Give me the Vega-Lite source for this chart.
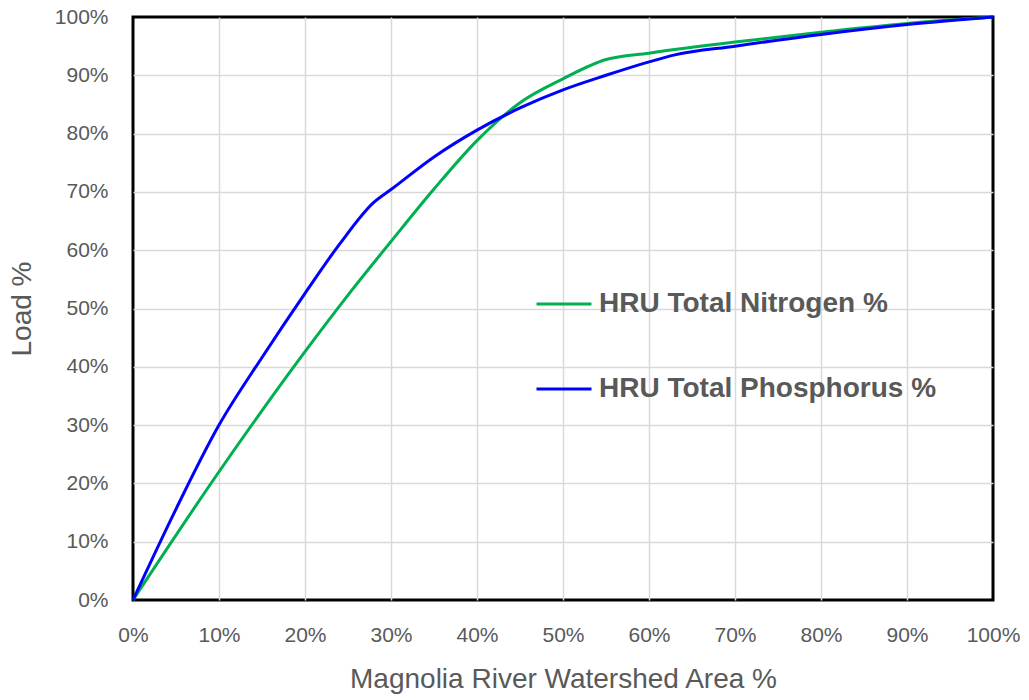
{
  "$schema": "https://vega.github.io/schema/vega-lite/v6.json",
  "autosize": "none",
  "width": 860,
  "height": 583,
  "padding": {"left": 133, "top": 17, "right": 36, "bottom": 100},
  "background": "white",
  "config": {
    "view": {"stroke": "black", "strokeWidth": 3},
    "font": "Liberation Sans"
  },
  "data": {
    "values": [
      {"area": 0, "load": 0, "series": "HRU Total Nitrogen %"},
      {"area": 10, "load": 22, "series": "HRU Total Nitrogen %"},
      {"area": 20, "load": 42.6, "series": "HRU Total Nitrogen %"},
      {"area": 25, "load": 52.3, "series": "HRU Total Nitrogen %"},
      {"area": 30, "load": 61.5, "series": "HRU Total Nitrogen %"},
      {"area": 35, "load": 70.5, "series": "HRU Total Nitrogen %"},
      {"area": 40, "load": 78.8, "series": "HRU Total Nitrogen %"},
      {"area": 45, "load": 85.3, "series": "HRU Total Nitrogen %"},
      {"area": 50, "load": 89.4, "series": "HRU Total Nitrogen %"},
      {"area": 55, "load": 92.7, "series": "HRU Total Nitrogen %"},
      {"area": 60, "load": 93.8, "series": "HRU Total Nitrogen %"},
      {"area": 70, "load": 95.7, "series": "HRU Total Nitrogen %"},
      {"area": 80, "load": 97.4, "series": "HRU Total Nitrogen %"},
      {"area": 90, "load": 98.9, "series": "HRU Total Nitrogen %"},
      {"area": 100, "load": 100, "series": "HRU Total Nitrogen %"},
      {"area": 0, "load": 0, "series": "HRU Total Phosphorus %"},
      {"area": 5, "load": 15.6, "series": "HRU Total Phosphorus %"},
      {"area": 10, "load": 30, "series": "HRU Total Phosphorus %"},
      {"area": 15, "load": 41.6, "series": "HRU Total Phosphorus %"},
      {"area": 20, "load": 52.6, "series": "HRU Total Phosphorus %"},
      {"area": 24, "load": 61, "series": "HRU Total Phosphorus %"},
      {"area": 28, "load": 68.2, "series": "HRU Total Phosphorus %"},
      {"area": 30, "load": 70.4, "series": "HRU Total Phosphorus %"},
      {"area": 35, "load": 76, "series": "HRU Total Phosphorus %"},
      {"area": 40, "load": 80.6, "series": "HRU Total Phosphorus %"},
      {"area": 45, "load": 84.4, "series": "HRU Total Phosphorus %"},
      {"area": 50, "load": 87.5, "series": "HRU Total Phosphorus %"},
      {"area": 55, "load": 90, "series": "HRU Total Phosphorus %"},
      {"area": 60, "load": 92.3, "series": "HRU Total Phosphorus %"},
      {"area": 63, "load": 93.5, "series": "HRU Total Phosphorus %"},
      {"area": 70, "load": 95, "series": "HRU Total Phosphorus %"},
      {"area": 80, "load": 97, "series": "HRU Total Phosphorus %"},
      {"area": 90, "load": 98.7, "series": "HRU Total Phosphorus %"},
      {"area": 100, "load": 100, "series": "HRU Total Phosphorus %"}
    ]
  },
  "mark": {"type": "line", "strokeWidth": 3, "interpolate": "monotone"},
  "encoding": {
    "x": {
      "field": "area", "type": "quantitative",
      "scale": {"domain": [0, 100], "nice": false},
      "axis": {
        "title": "Magnolia River Watershed Area %",
        "values": [0,10,20,30,40,50,60,70,80,90,100],
        "labelExpr": "datum.value + '%'",
        "labelFlush": false, "labelBound": false, "labelOverlap": false,
        "labelFontSize": 21, "labelColor": "#595959", "labelPadding": 24,
        "titleFontSize": 28, "titleColor": "#595959", "titleFontWeight": "normal", "titlePadding": 20,
        "domain": false, "ticks": false,
        "gridColor": {"condition": {"test": "datum.value == 0 || datum.value == 100", "value": "transparent"}, "value": "#D9D9D9"},
        "gridWidth": 1.5
      }
    },
    "y": {
      "field": "load", "type": "quantitative",
      "scale": {"domain": [0, 100], "nice": false},
      "axis": {
        "title": "Load %",
        "values": [0,10,20,30,40,50,60,70,80,90,100],
        "labelExpr": "datum.value + '%'",
        "labelFlush": false, "labelBound": false, "labelOverlap": false,
        "labelFontSize": 21, "labelColor": "#595959", "labelPadding": 25,
        "titleFontSize": 28, "titleColor": "#595959", "titleFontWeight": "normal", "titlePadding": 18,
        "domain": false, "ticks": false,
        "gridColor": {"condition": {"test": "datum.value == 0 || datum.value == 100", "value": "transparent"}, "value": "#D9D9D9"},
        "gridWidth": 1.5
      }
    },
    "color": {
      "field": "series", "type": "nominal",
      "scale": {"domain": ["HRU Total Nitrogen %", "HRU Total Phosphorus %"], "range": ["#00B050", "#0000FF"]},
      "legend": {
        "title": null,
        "orient": "none",
        "legendX": 402,
        "legendY": 258,
        "symbolType": "stroke",
        "symbolSize": 3025,
        "symbolStrokeWidth": 3,
        "labelFontSize": 28,
        "labelFontWeight": "bold",
        "labelColor": "#595959",
        "labelOffset": 6,
        "labelLimit": 500,
        "rowPadding": 42
      }
    }
  }
}
